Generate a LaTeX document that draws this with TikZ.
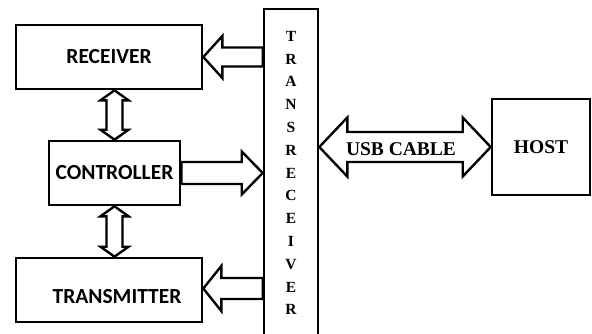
\documentclass[tikz,border=0pt]{standalone}
\usepackage{fontspec}
\setmainfont{Liberation Serif}
\newfontfamily\calibfont{Carlito}
\usetikzlibrary{calc}
\tikzset{
  blk/.style ={rectangle, draw, line width=2.6pt, inner sep=0pt,
               font=\calibfont\bfseries\fontsize{21.5}{24}\selectfont},
  srf/.style ={font=\bfseries\fontsize{19.5}{22}\selectfont},
  fat/.style ={draw, line width=2.4pt, line join=miter},
}
% fat arrow: tail, tip, shaft half width, head half width, head length
\newcommand{\fatarrow}[5]{%
  \coordinate (hb) at ($(#2)!#5!(#1)$);
  \draw[fat] ($(#1)!#3!90:(#2)$) -- ($(hb)!#3!90:(#2)$) -- ($(hb)!#4!90:(#2)$)
    -- (#2) -- ($(hb)!#4!-90:(#2)$) -- ($(hb)!#3!-90:(#2)$)
    -- ($(#1)!#3!-90:(#2)$) -- cycle;
}
% fat arrow with a head at both ends
\newcommand{\fatboth}[5]{%
  \coordinate (ha) at ($(#1)!#5!(#2)$);
  \coordinate (hb) at ($(#2)!#5!(#1)$);
  \draw[fat] (#1) -- ($(ha)!#4!90:(#2)$) -- ($(ha)!#3!90:(#2)$)
    -- ($(hb)!#3!90:(#2)$) -- ($(hb)!#4!90:(#2)$) -- (#2)
    -- ($(hb)!#4!-90:(#2)$) -- ($(hb)!#3!-90:(#2)$)
    -- ($(ha)!#3!-90:(#2)$) -- ($(ha)!#4!-90:(#2)$) -- cycle;
}

\begin{document}
\begin{tikzpicture}[x=1pt, y=-1pt]
  \useasboundingbox (0,0) rectangle (592,333);

  % ── Blocks ─────────────────────────────────────────────────────────
  \node[blk, minimum width=186pt, minimum height=64pt] (rcv) at (109,57)    {RECEIVER};
  \node[blk, minimum width=131pt, minimum height=64pt] (ctl) at (114.5,173) {CONTROLLER};
  \node[blk, minimum width=186pt, minimum height=64pt,
        label={[font=\calibfont\bfseries\fontsize{21.5}{24}\selectfont,
                xshift=8pt, yshift=-7pt]center:TRANSMITTER}] (tmt) at (109,290) {};
  \node[blk, minimum width=54pt,  minimum height=331pt] (trx) at (291,174.5) {};
  \node[blk, srf, minimum width=98pt, minimum height=96pt] (host) at (541,147) {HOST};

  % vertical label of the transceiver
  \node[align=center, inner sep=0pt, font=\bfseries\fontsize{15.5}{22.8}\selectfont]
       (trxlbl) at (291,173) {T\\R\\A\\N\\S\\R\\E\\C\\E\\I\\V\\E\\R};

  % ── Fat arrows ─────────────────────────────────────────────────────
  \coordinate (rcvin) at (trx.west |- rcv.east);
  \coordinate (ctlout) at (trx.west |- ctl.east);
  \coordinate (tmtin) at ($(trx.west |- tmt.east)+(0,-1.5)$);
  \coordinate (tmttip) at ($(tmt.east)+(0,-1.5)$);
  \coordinate (rcvbot) at (ctl.north |- rcv.south);
  \coordinate (tmttop) at (ctl.south |- tmt.north);
  \coordinate (usbl) at (trx.east |- host.west);

  \fatarrow{rcvin}{rcv.east}{9.5pt}{21pt}{19pt}
  \fatarrow{ctl.east}{ctlout}{11pt}{21.5pt}{21pt}
  \fatarrow{tmtin}{tmttip}{10.5pt}{22.5pt}{18pt}
  \fatboth{rcvbot}{ctl.north}{8pt}{14pt}{10pt}
  \fatboth{ctl.south}{tmttop}{8pt}{14pt}{10pt}
  \fatboth{usbl}{host.west}{15pt}{29.5pt}{28pt}

  \node[srf, inner sep=0pt] (usb) at ($(usbl)!.5!(host.west)+(-4,2)$) {USB CABLE};

\end{tikzpicture}
\end{document}
